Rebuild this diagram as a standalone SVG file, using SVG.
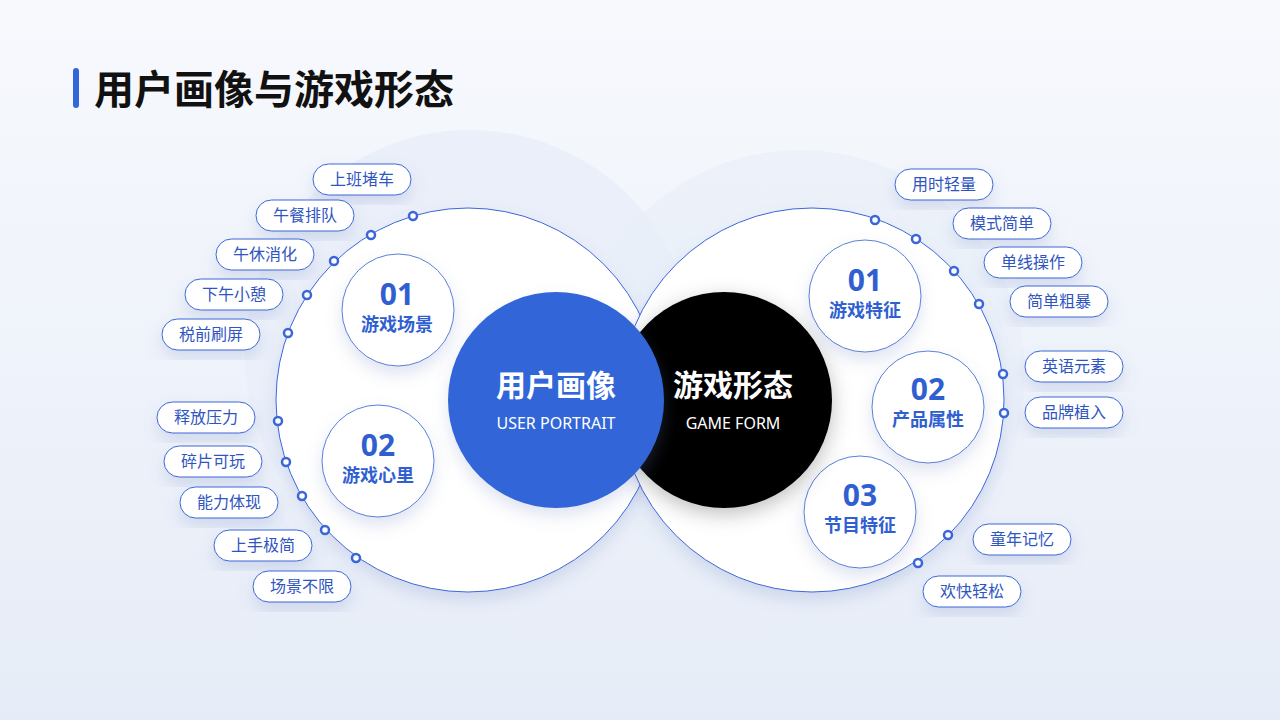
<svg xmlns="http://www.w3.org/2000/svg" width="1280" height="720" viewBox="0 0 1280 720">
<defs>
<linearGradient id="bg" x1="0" y1="0" x2="0" y2="1"><stop offset="0" stop-color="#f7f9fd"/><stop offset="1" stop-color="#e6ecf7"/></linearGradient>
<filter id="sh" x="-30%" y="-30%" width="160%" height="160%"><feDropShadow dx="0" dy="8" stdDeviation="8" flood-color="#6f86c0" flood-opacity="0.22"/></filter>
<filter id="sh2" x="-30%" y="-30%" width="160%" height="160%"><feDropShadow dx="0" dy="6" stdDeviation="10" flood-color="#000" flood-opacity="0.25"/></filter>
</defs>
<style>
.f{font-family:"Noto Sans CJK SC","Noto Sans",sans-serif}
.pill rect{fill:#fff;stroke:#3a66d8;stroke-width:1;filter:url(#sh)}
.pill text{font-family:"Noto Sans CJK SC",sans-serif;font-size:16px;fill:#2f55c0;text-anchor:middle}
.dot{fill:#fff;stroke:#3a66d8;stroke-width:2.5}
.sc{fill:#fff;stroke:#5b7fd8;stroke-width:1;filter:url(#sh)}
.num{font-family:"Noto Sans",sans-serif;font-size:30px;font-weight:bold;fill:#2f5fd0;text-anchor:middle}
.lab{font-family:"Noto Sans CJK SC",sans-serif;font-size:18px;font-weight:bold;fill:#2f5fd0;text-anchor:middle}
</style>
<rect width="1280" height="720" fill="url(#bg)"/>
<circle cx="470" cy="355" r="225" fill="#e8eef9" opacity="0.8"/>
<circle cx="800" cy="375" r="225" fill="#e8eef9" opacity="0.6"/>
<rect x="73" y="68" width="6" height="40" rx="3" fill="#3366d8"/>
<text class="f" x="94" y="104" font-size="40" font-weight="bold" fill="#111">用户画像与游戏形态</text>
<g id="big-left"><circle cx="468" cy="400" r="192" fill="#fff" stroke="#3a66d8" stroke-width="1" filter="url(#sh)"/></g>
<g id="big-right"><circle cx="812" cy="400" r="192" fill="#fff" stroke="#3a66d8" stroke-width="1" filter="url(#sh)"/></g>
<g id="s1"><circle class="sc" cx="398" cy="310" r="56"/><text class="num" x="397" y="305">01</text><text class="lab" x="397" y="331">游戏场景</text></g>
<g id="s2"><circle class="sc" cx="378" cy="461" r="56"/><text class="num" x="378" y="456">02</text><text class="lab" x="378" y="482">游戏心里</text></g>
<g id="r1"><circle class="sc" cx="865" cy="296" r="56"/><text class="num" x="865" y="291">01</text><text class="lab" x="865" y="317">游戏特征</text></g>
<g id="r2"><circle class="sc" cx="928" cy="407" r="56"/><text class="num" x="928" y="400">02</text><text class="lab" x="928" y="426">产品属性</text></g>
<g id="r3"><circle class="sc" cx="860" cy="512" r="56"/><text class="num" x="860" y="506">03</text><text class="lab" x="860" y="532">节目特征</text></g>
<g id="black"><circle cx="724" cy="400" r="108" fill="#000" filter="url(#sh2)"/><text class="f" x="733" y="396" font-size="30" font-weight="bold" fill="#fff" text-anchor="middle">游戏形态</text><text x="733" y="429" font-family="Noto Sans,sans-serif" font-size="16" fill="#fff" text-anchor="middle">GAME FORM</text></g>
<g id="blue"><circle cx="556" cy="400" r="108" fill="#3366d8" filter="url(#sh)"/><text class="f" x="556" y="396" font-size="30" font-weight="bold" fill="#fff" text-anchor="middle">用户画像</text><text x="556" y="429" font-family="Noto Sans,sans-serif" font-size="16" fill="#fff" text-anchor="middle">USER PORTRAIT</text></g>
<g id="dots">
<circle class="dot" cx="413" cy="216" r="4"/><circle class="dot" cx="371" cy="235" r="4"/><circle class="dot" cx="334" cy="261" r="4"/><circle class="dot" cx="307" cy="295" r="4"/><circle class="dot" cx="288" cy="333" r="4"/><circle class="dot" cx="278" cy="421" r="4"/><circle class="dot" cx="286" cy="462" r="4"/><circle class="dot" cx="302" cy="496" r="4"/><circle class="dot" cx="325" cy="530" r="4"/><circle class="dot" cx="356" cy="558" r="4"/>
<circle class="dot" cx="875" cy="220" r="4"/><circle class="dot" cx="916" cy="239" r="4"/><circle class="dot" cx="954" cy="271" r="4"/><circle class="dot" cx="979" cy="304" r="4"/><circle class="dot" cx="1003" cy="374" r="4"/><circle class="dot" cx="1004" cy="413" r="4"/><circle class="dot" cx="948" cy="535" r="4"/><circle class="dot" cx="918" cy="563" r="4"/>
</g>
<g id="p1" class="pill"><rect x="313" y="164" width="98" height="31" rx="15.5"/><text x="362" y="185">上班堵车</text></g>
<g id="p2" class="pill"><rect x="256" y="200" width="98" height="31" rx="15.5"/><text x="305" y="221">午餐排队</text></g>
<g id="p3" class="pill"><rect x="216" y="239" width="98" height="31" rx="15.5"/><text x="265" y="260">午休消化</text></g>
<g id="p4" class="pill"><rect x="185" y="279" width="98" height="31" rx="15.5"/><text x="234" y="300">下午小憩</text></g>
<g id="p5" class="pill"><rect x="162" y="319" width="98" height="31" rx="15.5"/><text x="211" y="340">税前刷屏</text></g>
<g id="p6" class="pill"><rect x="157" y="402" width="98" height="31" rx="15.5"/><text x="206" y="423">释放压力</text></g>
<g id="p7" class="pill"><rect x="164" y="446" width="98" height="31" rx="15.5"/><text x="213" y="467">碎片可玩</text></g>
<g id="p8" class="pill"><rect x="180" y="487" width="98" height="31" rx="15.5"/><text x="229" y="508">能力体现</text></g>
<g id="p9" class="pill"><rect x="214" y="530" width="98" height="31" rx="15.5"/><text x="263" y="551">上手极简</text></g>
<g id="p10" class="pill"><rect x="253" y="571" width="98" height="31" rx="15.5"/><text x="302" y="592">场景不限</text></g>
<g id="q1" class="pill"><rect x="895" y="169" width="98" height="31" rx="15.5"/><text x="944" y="190">用时轻量</text></g>
<g id="q2" class="pill"><rect x="953" y="208" width="98" height="31" rx="15.5"/><text x="1002" y="229">模式简单</text></g>
<g id="q3" class="pill"><rect x="984" y="247" width="98" height="31" rx="15.5"/><text x="1033" y="268">单线操作</text></g>
<g id="q4" class="pill"><rect x="1010" y="286" width="98" height="31" rx="15.5"/><text x="1059" y="307">简单粗暴</text></g>
<g id="q5" class="pill"><rect x="1025" y="351" width="98" height="31" rx="15.5"/><text x="1074" y="372">英语元素</text></g>
<g id="q6" class="pill"><rect x="1025" y="397" width="98" height="31" rx="15.5"/><text x="1074" y="418">品牌植入</text></g>
<g id="q7" class="pill"><rect x="973" y="524" width="98" height="31" rx="15.5"/><text x="1022" y="545">童年记忆</text></g>
<g id="q8" class="pill"><rect x="923" y="576" width="98" height="31" rx="15.5"/><text x="972" y="597">欢快轻松</text></g>
</svg>
